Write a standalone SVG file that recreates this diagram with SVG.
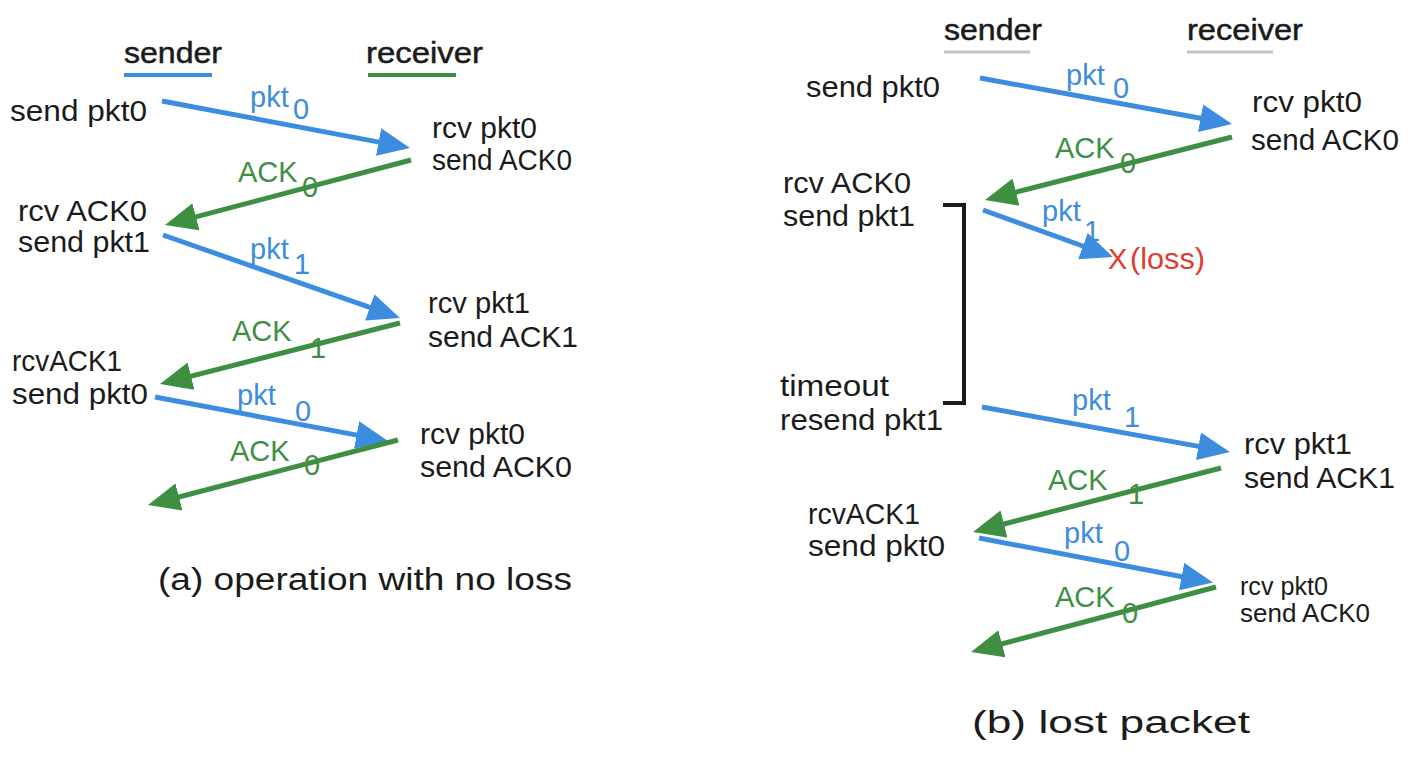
<svg xmlns="http://www.w3.org/2000/svg" width="1413" height="759" viewBox="0 0 1413 759">
<style>
text{font-family:"Liberation Sans",Arial,sans-serif;font-size:29px;fill:#1b1b1b}
.hdr{font-size:29px;stroke:#1b1b1b;stroke-width:0.5}
.cap{font-size:31px}
.sm{font-size:25px}
.lab{font-size:29px}
.sub{font-size:29px}
.b{fill:#3c8de0}
.g{fill:#3f8f43}
.r{fill:#e03b2b}
.lb{stroke:#3c8de0;stroke-width:5;fill:none}
.lg{stroke:#3f8f43;stroke-width:5;fill:none}
.ab{marker-end:url(#hb)}
.ag{marker-end:url(#hg)}
</style>
<defs>
<marker id="hb" viewBox="0 0 32 28" refX="10" refY="14" markerWidth="32" markerHeight="28" markerUnits="userSpaceOnUse" orient="auto"><path d="M0,0 L32,14 L0,28 Z" fill="#3c8de0"/></marker>
<marker id="hg" viewBox="0 0 32 28" refX="10" refY="14" markerWidth="32" markerHeight="28" markerUnits="userSpaceOnUse" orient="auto"><path d="M0,0 L32,14 L0,28 Z" fill="#3f8f43"/></marker>
</defs>
<rect width="1413" height="759" fill="#ffffff"/>

<!-- Panel (a) -->
<g id="a-sender-hdr"><text class="hdr" x="124" y="63" textLength="98" lengthAdjust="spacingAndGlyphs">sender</text><line x1="124" y1="75" x2="212" y2="75" stroke="#3c8de0" stroke-width="4"/></g>
<g id="a-receiver-hdr"><text class="hdr" x="366" y="63" textLength="117" lengthAdjust="spacingAndGlyphs">receiver</text><line x1="368" y1="75" x2="456" y2="75" stroke="#3f8f43" stroke-width="4"/></g>
<g id="a-s1"><text x="10" y="121" textLength="137" lengthAdjust="spacingAndGlyphs">send pkt0</text></g>
<g id="a-r1"><text x="432" y="138" textLength="105" lengthAdjust="spacingAndGlyphs">rcv pkt0</text><text x="432" y="170" textLength="140" lengthAdjust="spacingAndGlyphs">send ACK0</text></g>
<g id="a-s2"><text x="18" y="221" textLength="129" lengthAdjust="spacingAndGlyphs">rcv ACK0</text><text x="18" y="252" textLength="132" lengthAdjust="spacingAndGlyphs">send pkt1</text></g>
<g id="a-r2"><text x="428" y="313" textLength="102" lengthAdjust="spacingAndGlyphs">rcv pkt1</text><text x="428" y="347" textLength="150" lengthAdjust="spacingAndGlyphs">send ACK1</text></g>
<g id="a-s3"><text x="12" y="371" textLength="110" lengthAdjust="spacingAndGlyphs">rcvACK1</text><text x="12" y="404" textLength="136" lengthAdjust="spacingAndGlyphs">send pkt0</text></g>
<g id="a-r3"><text x="420" y="444" textLength="105" lengthAdjust="spacingAndGlyphs">rcv pkt0</text><text x="420" y="477" textLength="152" lengthAdjust="spacingAndGlyphs">send ACK0</text></g>
<g id="a-caption"><text class="cap" x="158" y="590" textLength="414" lengthAdjust="spacingAndGlyphs">(a) operation with no loss</text></g>

<!-- Panel (b) -->
<g id="b-sender-hdr"><text class="hdr" x="944" y="40" textLength="98" lengthAdjust="spacingAndGlyphs">sender</text><line x1="944" y1="52" x2="1030" y2="52" stroke="#c4c4c4" stroke-width="3"/></g>
<g id="b-receiver-hdr"><text class="hdr" x="1187" y="40" textLength="116" lengthAdjust="spacingAndGlyphs">receiver</text><line x1="1187" y1="52" x2="1273" y2="52" stroke="#c4c4c4" stroke-width="3"/></g>
<g id="b-s1"><text x="806" y="97" textLength="134" lengthAdjust="spacingAndGlyphs">send pkt0</text></g>
<g id="b-r1"><text x="1252" y="112" textLength="110" lengthAdjust="spacingAndGlyphs">rcv pkt0</text><text x="1251" y="150" textLength="148" lengthAdjust="spacingAndGlyphs">send ACK0</text></g>
<g id="b-s2"><text x="783" y="193" textLength="128" lengthAdjust="spacingAndGlyphs">rcv ACK0</text><text x="783" y="226" textLength="132" lengthAdjust="spacingAndGlyphs">send pkt1</text></g>
<g id="b-loss"><text class="r" x="1108" y="269" font-size="30">X</text><text class="r" x="1130" y="269" textLength="75" lengthAdjust="spacingAndGlyphs">(loss)</text></g>
<g id="b-timer"><path d="M943,205 H964 V403 H943" fill="none" stroke="#1b1b1b" stroke-width="4"/></g>
<g id="b-s3"><text x="780" y="396" textLength="109" lengthAdjust="spacingAndGlyphs">timeout</text><text x="780" y="430" textLength="163" lengthAdjust="spacingAndGlyphs">resend pkt1</text></g>
<g id="b-r2"><text x="1244" y="454" textLength="108" lengthAdjust="spacingAndGlyphs">rcv pkt1</text><text x="1244" y="488" textLength="151" lengthAdjust="spacingAndGlyphs">send ACK1</text></g>
<g id="b-s4"><text x="808" y="524" textLength="112" lengthAdjust="spacingAndGlyphs">rcvACK1</text><text x="808" y="556" textLength="137" lengthAdjust="spacingAndGlyphs">send pkt0</text></g>
<g id="b-r3"><text class="sm" x="1240" y="595" textLength="88" lengthAdjust="spacingAndGlyphs">rcv pkt0</text><text class="sm" x="1240" y="622" textLength="130" lengthAdjust="spacingAndGlyphs">send ACK0</text></g>
<g id="b-caption"><text class="cap" x="972" y="733" textLength="278" lengthAdjust="spacingAndGlyphs">(b) lost packet</text></g>

<!-- Connectors -->
<g id="connectors">
<line class="lb ab" x1="162" y1="101" x2="388.4" y2="143.9"/>
<line class="lg ag" x1="411" y1="160" x2="186.3" y2="219.4"/>
<line class="lb ab" x1="163" y1="235" x2="379.2" y2="310.7"/>
<line class="lg ag" x1="400" y1="323" x2="181.3" y2="378.6"/>
<line class="lb ab" x1="155" y1="397" x2="366.4" y2="436.9"/>
<line class="lg ag" x1="398" y1="440" x2="169.3" y2="499.5"/>

<line class="lb ab" x1="980" y1="78" x2="1210.4" y2="120"/>
<line class="lg ag" x1="1232" y1="137" x2="1006.3" y2="194.6"/>
<line class="lb ab" x1="983" y1="210" x2="1092.3" y2="249.5"/>
<line class="lb ab" x1="982" y1="407" x2="1208.3" y2="448.1"/>
<line class="lg ag" x1="1221" y1="468" x2="994.3" y2="526.5"/>
<line class="lb ab" x1="979" y1="538" x2="1191.4" y2="578.5"/>
<line class="lg ag" x1="1216" y1="587" x2="992.3" y2="646.4"/>
</g>

<!-- Connector labels -->
<g id="connector-labels">
<text class="b lab" x="250" y="107">pkt</text><text class="b sub" x="293" y="119">0</text>
<text class="g lab" x="238" y="182">ACK</text><text class="g sub" x="302" y="197">0</text>
<text class="b lab" x="250" y="259">pkt</text><text class="b sub" x="294" y="274">1</text>
<text class="g lab" x="232" y="341">ACK</text><text class="g sub" x="310" y="358">1</text>
<text class="b lab" x="237" y="405">pkt</text><text class="b sub" x="295" y="421">0</text>
<text class="g lab" x="230" y="461">ACK</text><text class="g sub" x="304" y="475">0</text>

<text class="b lab" x="1066" y="85">pkt</text><text class="b sub" x="1113" y="98">0</text>
<text class="g lab" x="1055" y="158">ACK</text><text class="g sub" x="1120" y="173">0</text>
<text class="b lab" x="1042" y="221">pkt</text><text class="b sub" x="1084" y="241">1</text>
<text class="b lab" x="1072" y="410">pkt</text><text class="b sub" x="1124" y="427">1</text>
<text class="g lab" x="1048" y="490">ACK</text><text class="g sub" x="1128" y="504">1</text>
<text class="b lab" x="1064" y="543">pkt</text><text class="b sub" x="1114" y="561">0</text>
<text class="g lab" x="1055" y="607">ACK</text><text class="g sub" x="1122" y="623">0</text>
</g>
</svg>
